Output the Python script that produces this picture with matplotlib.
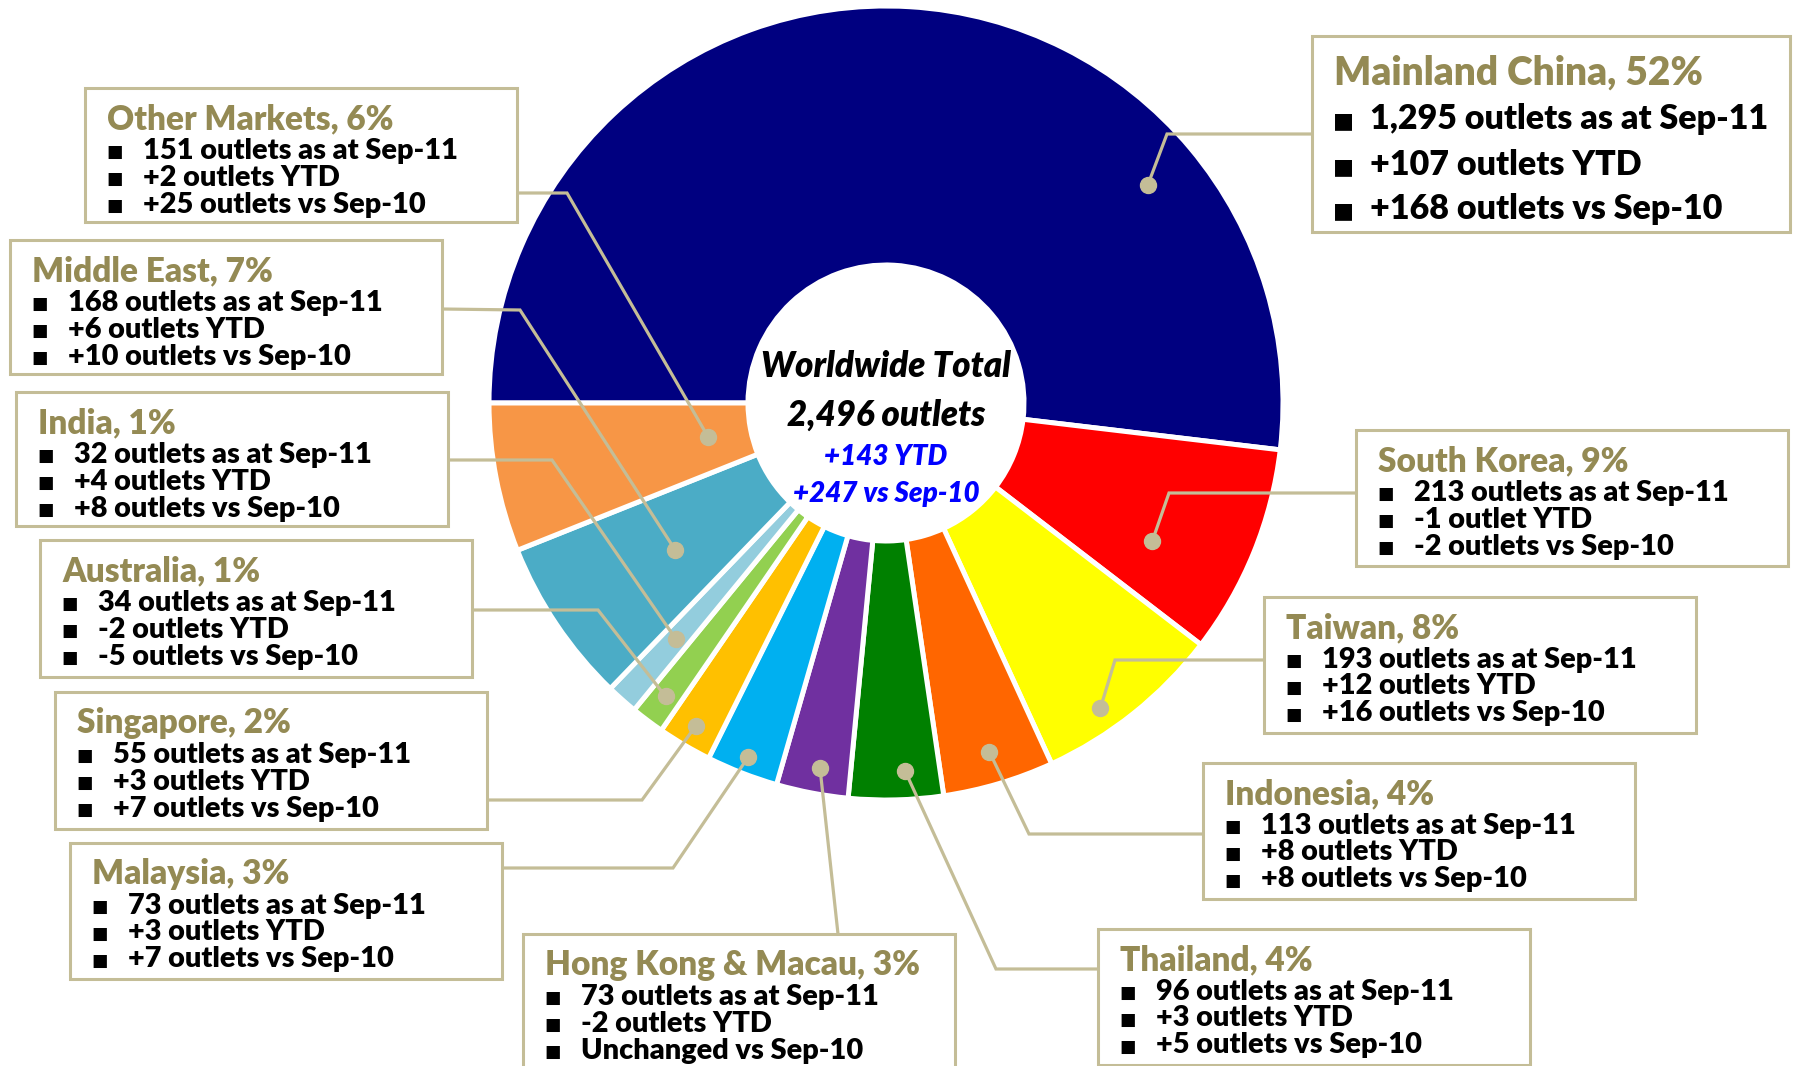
import numpy as np
import matplotlib.pyplot as plt
from matplotlib.patches import Rectangle

W, H = 1793, 1066

markets = ['Mainland China', 'South Korea', 'Taiwan', 'Indonesia', 'Thailand',
           'Hong Kong & Macau', 'Malaysia', 'Singapore', 'Australia', 'India',
           'Middle East', 'Other Markets']
outlets = [1295, 213, 193, 113, 96, 73, 73, 55, 34, 32, 168, 151]
shares = [52, 9, 8, 4, 4, 3, 3, 2, 1, 1, 7, 6]
ytd = [107, -1, 12, 8, 3, -2, 3, 3, -2, 4, 6, 2]
vs_sep10 = [168, -2, 16, 8, 5, 0, 7, 7, -5, 8, 10, 25]
colors = ['#000080', '#FF0000', '#FFFF00', '#FF6600', '#008000', '#7030A0',
          '#00B0F0', '#FFC000', '#92D050', '#93CDDD', '#4BACC6', '#F79646']

# layout in pixels from the top-left corner
# box (x, y, w, h), leader points (box edge, bend), dot radius, dot angle shift
layout = {
    'Mainland China':    ((1312, 36, 478, 196), [(1312, 134), (1167, 134)], 341, -46.8),
    'South Korea':       ((1356, 430, 432, 136), [(1356, 493), (1169, 493)], 300, -5.3),
    'Taiwan':            ((1264, 597, 432, 136), [(1264, 660), (1115, 660)], 373, -3.5),
    'Indonesia':         ((1203, 763, 432, 136), [(1203, 834), (1029, 834)], 364, 0.0),
    'Thailand':          ((1098, 929, 432, 136), [(1098, 969), (996, 969)], 368, 1.5),
    'Hong Kong & Macau': ((523, 934, 432, 136), [(838, 934)], 371, 0.5),
    'Malaysia':          ((70, 843, 432, 136), [(502, 868), (673, 868)], 380, 0.0),
    'Singapore':         ((55, 692, 432, 137), [(487, 800), (642, 800)], 375, 0.0),
    'Australia':         ((40, 540, 432, 137), [(472, 610), (598, 610)], 367, 0.0),
    'India':             ((16, 392, 432, 134), [(448, 460), (552, 460)], 316, 0.0),
    'Middle East':       ((10, 240, 432, 134), [(442, 309), (520, 310)], 257, 1.0),
    'Other Markets':     ((85, 88, 432, 134), [(517, 193), (567, 193)], 181, 0.0),
}

TAN = '#C4BD97'
OLIVE = '#948A54'
FONT = ['Lato', 'DejaVu Sans']
WEIGHT = 'heavy'

cx, cy = 886, 403
r_out, r_in = 397, 138


def Y(y):
    return H - y


fig = plt.figure(figsize=(W / 100, H / 100), dpi=100)
ax = fig.add_axes([0, 0, 1, 1])

wedges, _ = ax.pie(outlets, colors=colors, startangle=180, counterclock=False,
                   center=(cx, Y(cy)), radius=r_out,
                   wedgeprops=dict(width=r_out - r_in, edgecolor='white', linewidth=3.6))
ax.set_xlim(0, W)
ax.set_ylim(0, H)
ax.set_aspect('equal')
ax.axis('off')

total = sum(outlets)


def outl(v):
    return 'outlet' if abs(v) == 1 else 'outlets'


for i, name in enumerate(markets):
    (bx, by, bw, bh), pts, dr, dshift = layout[name]
    w = wedges[i]
    ang = np.radians((w.theta1 + w.theta2) / 2 + dshift)
    ax_, ay_ = cx + dr * np.cos(ang), Y(cy) + dr * np.sin(ang)

    xs = [p[0] for p in pts] + [ax_]
    ys = [Y(p[1]) for p in pts] + [ay_]
    ax.plot(xs, ys, color=TAN, lw=2.3, zorder=3, solid_joinstyle='miter')
    ax.plot(ax_, ay_, 'o', color=TAN, ms=11.5, zorder=4)

    ax.add_patch(Rectangle((bx, Y(by + bh)), bw, bh, facecolor='white',
                           edgecolor=TAN, lw=2.2, zorder=5, clip_on=False))

    big = name == 'Mainland China'
    lines = [f'{outlets[i]:,} outlets as at Sep-11',
             f'{ytd[i]:+d} {outl(ytd[i])} YTD',
             'Unchanged vs Sep-10' if vs_sep10[i] == 0
             else f'{vs_sep10[i]:+d} {outl(vs_sep10[i])} vs Sep-10']
    if big:
        tsize, bsize, qsize = 28, 24.5, 16
        t_off, b_offs = 49, [93, 139, 183]
    else:
        tsize, bsize, qsize = 24, 20.8, 12.5
        t_off, b_offs = 41, [71, 97.5, 124.5]

    ax.text(bx + 22, Y(by + t_off), f'{name}, {shares[i]}%', color=OLIVE,
            fontsize=tsize, fontweight=WEIGHT, family=FONT, va='baseline', zorder=6)
    for off, s in zip(b_offs, lines):
        ax.text(bx + 21, Y(by + off - 2), '\u25A0', color='black', fontsize=qsize,
                family='DejaVu Sans', va='baseline', zorder=6)
        ax.text(bx + 58, Y(by + off), s, color='black', fontsize=bsize,
                fontweight=WEIGHT, family=FONT, va='baseline', zorder=6)

# centre text
ax.text(cx, Y(377), 'Worldwide Total', ha='center', va='baseline', fontsize=25,
        fontweight=WEIGHT, style='italic', family=FONT, zorder=6)
ax.text(cx, Y(426), f'{total:,} outlets', ha='center', va='baseline', fontsize=25,
        fontweight=WEIGHT, style='italic', family=FONT, zorder=6)
ax.text(cx, Y(465), f'{sum(ytd):+d} YTD', ha='center', va='baseline', fontsize=20,
        fontweight=WEIGHT, style='italic', color='#0000FF', family=FONT, zorder=6)
ax.text(cx, Y(502), f'{sum(vs_sep10):+d} vs Sep-10', ha='center', va='baseline',
        fontsize=20, fontweight=WEIGHT, style='italic', color='#0000FF', family=FONT, zorder=6)

fig.savefig('out.png', dpi=100, facecolor='white')
